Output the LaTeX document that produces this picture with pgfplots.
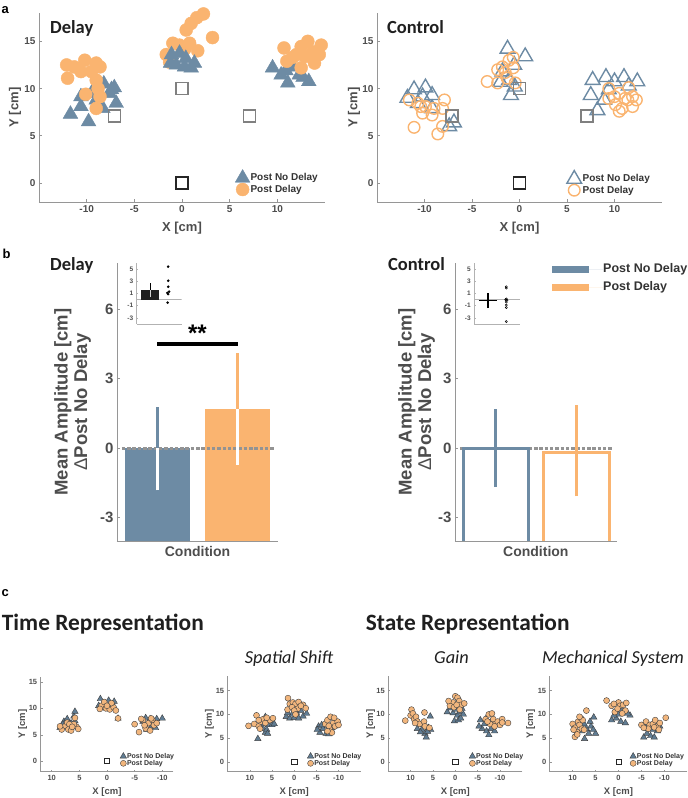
\documentclass[border=0pt]{standalone}
\usepackage{fontspec}
\setmainfont{Liberation Sans}
\newfontfamily\calibri{Carlito}
\usepackage{pgfplots}
\pgfplotsset{compat=1.18}

\definecolor{nodelay}{RGB}{109,139,164}
\definecolor{delayc}{RGB}{250,180,112}
\definecolor{tickgray}{RGB}{77,77,77}
\definecolor{axgray}{RGB}{150,150,150}
\definecolor{sqgray}{RGB}{128,128,128}
\definecolor{cblue}{RGB}{96,124,147}
\definecolor{corange}{RGB}{242,182,125}
\newcommand{\fs}[1]{\fontsize{#1}{#1}\selectfont}

\pgfplotsset{
  myax/.style={scale only axis, anchor=south west,
    axis x line*=bottom, axis y line*=left,
    axis line style={axgray, line width=0.9pt},
    tick style={axgray, line width=0.8pt}, tick align=inside, major tick length=3pt,
    /pgf/number format/assume math mode=true},
  mklegend/.style={legend cell align=left,
    legend image code/.code={\draw[##1, only marks] plot coordinates {(0pt,0pt)};}},
}

\begin{document}
\begin{tikzpicture}[x=1pt,y=1pt]
\useasboundingbox (0,0) rectangle (688,798);

% ================= panel a: Delay
\begin{axis}[myax, mklegend, at={(39pt,596pt)}, width=286pt, height=189pt,
  xmin=-15, xmax=15, ymin=-2, ymax=18,
  xtick={-10,-5,0,5,10}, ytick={0,5,10,15},
  tick label style={font=\fs{10}\bfseries, text=tickgray},
  xlabel={X [cm]}, ylabel={Y [cm]},
  label style={font=\fs{13}\bfseries, text=tickgray},
  xlabel style={at={(axis description cs:0.5,-0.1376)}, anchor=center},
  ylabel style={at={(axis description cs:-0.0839,0.5)}, anchor=center},
  legend style={at={(rel axis cs:0.675,0.02)}, anchor=south west, draw=none, fill=none,
    font=\fs{10}\bfseries, text=black!80, row sep=0pt, nodes={inner sep=0.6pt}},
]
\addplot[only marks, mark=triangle*, mark size=8.5pt, nodelay] coordinates {
(-11.7,7.3) (-10.6,8.1) (-9.8,6.5) (-10.6,9.15) (-9.0,8.8) (-8.3,7.9) (-7.4,9.9) (-7.1,10.1)
(-6.9,8.45) (-8.2,10.5) (-9.5,9.5) (-7.6,9.5)
(9.5,12.2) (10.4,11.45) (11.1,10.6) (11.6,12.3) (12.3,11.45) (13.3,10.75) (12.7,11.2) (10.9,11.9)
};
\addlegendentry{Post No Delay}
\addplot[only marks, mark=*, mark size=6.5pt, delayc] coordinates {
(-12.1,12.5) (-11.3,12.3) (-10.2,13.0) (-9.0,12.7) (-12.0,11.1) (-10.6,11.8) (-9.5,11.8) (-9.0,10.9)
(-8.8,10.0) (-8.6,9.15) (-9.0,7.9) (-10.1,9.4) (-8.6,12.3)
(-1.65,13.6) (-1.3,12.8) (-0.96,14.8) (-0.26,14.6) (0.8,14.8) (1.65,14.0) (0.44,16.2) (0.96,16.9)
(1.55,17.5) (2.25,17.9) (3.2,15.4) (0.3,14.2)
(10.7,14.3) (11.0,12.9) (12.0,13.6) (12.5,14.45) (13.2,15.0) (13.7,13.9) (14.6,14.6) (13.9,12.7)
(12.5,12.2) (14.4,13.6) (11.6,13.3) (12.9,13.4)
};
\addlegendentry{Post Delay}
\addplot[only marks, mark=triangle*, mark size=8.5pt, nodelay, forget plot] coordinates {
(-1.1,13.6) (-0.26,13.75) (0.4,13.2) (1.3,12.7) (-0.6,12.5) (0.26,12.3) (0.96,12.2) (-1.2,12.7)
};
\addplot[only marks, mark=square, mark size=6pt, sqgray, line width=1.7pt, forget plot] coordinates {
(-7.07,7.07) (0,10) (7.07,7.07)};
\addplot[only marks, mark=square, mark size=6pt, black!85, line width=1.7pt, forget plot] coordinates {(0,0)};
\end{axis}

% ================= panel a: Control
\begin{axis}[myax, mklegend, at={(377pt,596pt)}, width=285pt, height=189pt,
  xmin=-15, xmax=15, ymin=-2, ymax=18,
  xtick={-10,-5,0,5,10}, ytick={0,5,10,15},
  tick label style={font=\fs{10}\bfseries, text=tickgray},
  xlabel={X [cm]}, ylabel={Y [cm]},
  label style={font=\fs{13}\bfseries, text=tickgray},
  xlabel style={at={(axis description cs:0.5,-0.1376)}, anchor=center},
  ylabel style={at={(axis description cs:-0.0807,0.5)}, anchor=center},
  legend style={at={(rel axis cs:0.655,0.02)}, anchor=south west, draw=none, fill=none,
    font=\fs{10}\bfseries, text=black!80, row sep=0pt, nodes={inner sep=1pt}},
]
\addplot[only marks, mark=triangle, mark size=8.5pt, nodelay, line width=1.4pt] coordinates {
(-11.8,9.0) (-11.1,9.9) (-9.9,10.1) (-9.2,9.3) (-10.2,9.15) (-10.7,8.45) (-6.9,6.4) (-7.4,6.0) (-9.2,7.9)
(-1.26,14.2) (0.6,13.4) (-0.9,9.3) (-1.8,11.8) (-1.1,10.9) (-0.56,12.5) (-2.0,10.7) (-0.5,10.2)
(7.7,10.9) (9.1,11.2) (10.0,10.75) (11.0,11.2) (12.4,10.75) (7.5,9.3) (8.2,7.7) (8.9,8.8) (9.4,9.9) (11.5,10.3)
};
\addlegendentry{Post No Delay}
\addplot[only marks, mark=o, mark size=5.8pt, delayc, line width=1.4pt] coordinates {
(-11.6,8.8) (-10.7,8.45) (-9.9,8.1) (-10.2,7.4) (-9.0,7.9) (-7.9,8.8) (-8.1,7.9) (-11.1,5.9) (-8.6,5.2)
(-8.1,6.0) (-9.2,7.2) (-10.4,8.1)
(-3.4,10.75) (-2.3,10.6) (-1.8,12.3) (-1.1,13.0) (-0.66,13.3) (-0.66,12.2) (-1.3,11.1) (-0.45,10.6)
(-2.3,12.0) (-1.5,11.7)
(9.4,10.0) (10.0,9.15) (10.5,9.5) (10.1,8.3) (10.8,7.9) (11.4,8.8) (11.9,9.15) (12.3,8.8) (11.5,10.1)
(9.4,8.95) (11.1,8.95) (11.9,8.1) (10.5,7.6)
};
\addlegendentry{Post Delay}
\addplot[only marks, mark=square, mark size=6pt, sqgray, line width=1.7pt, forget plot] coordinates {
(-7.07,7.07) (0,10) (7.07,7.07)};
\addplot[only marks, mark=square, mark size=6pt, black!85, line width=1.7pt, forget plot] coordinates {(0,0)};
\end{axis}

% ================= panel b: Delay
\begin{axis}[myax, at={(117pt,257pt)}, width=161pt, height=278pt,
  xmin=0.5, xmax=2.5, ymin=-4, ymax=8, xtick=\empty, ytick={-3,0,3,6},
  tick label style={font=\fs{15}\bfseries, text=tickgray},
  xlabel={Condition},
  ylabel={Mean Amplitude [cm]\\{\mdseries Δ}Post No Delay},
  xlabel style={font=\fs{14}\bfseries, text=tickgray, at={(axis description cs:0.5,-0.0385)}, anchor=center},
  ylabel style={font=\fontsize{18.5}{19.5}\selectfont\bfseries, text=tickgray, align=center,
    at={(axis description cs:-0.2764,0.5)}, anchor=center},
]
\addplot[fill=nodelay, draw=none] coordinates {(0.595,-5) (0.595,0) (1.405,0) (1.405,-5)} -- cycle;
\addplot[fill=delayc, draw=none] coordinates {(1.595,-5) (1.595,1.70) (2.405,1.70) (2.405,-5)} -- cycle;
\addplot[gray!85, line width=3pt, dash pattern=on 3.5pt off 1.8pt] coordinates {(0.56,0) (2.46,0)};
\addplot[nodelay, line width=3.2pt] coordinates {(1,0) (1,1.78)};
\addplot[white, line width=3.2pt] coordinates {(1,-1.81) (1,0)};
\addplot[delayc, line width=3.2pt] coordinates {(2,1.70) (2,4.10)};
\addplot[white, line width=3.2pt] coordinates {(2,-0.70) (2,1.70)};
\addplot[black, line width=4pt] coordinates {(1,4.52) (2,4.52)};
\node[font=\fs{24}\bfseries, anchor=base] at (axis cs:1.5,4.62) {**};
\end{axis}

% inset Delay
\begin{axis}[myax, at={(136.7pt,474pt)}, width=45pt, height=61pt,
  xmin=0.25, xmax=2.75, ymin=-4, ymax=6, xtick=\empty, ytick={-3,-1,1,3,5},
  axis line style={gray!60, line width=0.5pt}, tick style={gray!60, line width=0.4pt},
  major tick length=1.5pt,
  tick label style={font=\fs{6.5}\bfseries, text=tickgray},
]
\addplot[gray!60, line width=0.5pt] coordinates {(0.25,0) (2.75,0)};
\addplot[fill=black!88, draw=none] coordinates {(0.5,0) (0.5,1.6) (1.5,1.6) (1.5,0)} -- cycle;
\addplot[black, line width=1.2pt] coordinates {(1,1.6) (1,2.8)};
\addplot[gray!35, line width=1.2pt] coordinates {(1,0.4) (1,1.6)};
\addplot[only marks, mark=*, mark size=1.1pt, black] coordinates {
(2,5.4) (2,3.1) (2,2.1) (2.05,1.3) (1.95,1.1) (2,0.9) (1.97,-0.5)};
\end{axis}

% ================= panel b: Control
\begin{axis}[myax, at={(455pt,257pt)}, width=161.7pt, height=278pt,
  xmin=0.5, xmax=2.5, ymin=-4, ymax=8, xtick=\empty, ytick={-3,0,3,6},
  tick label style={font=\fs{15}\bfseries, text=tickgray},
  xlabel={Condition},
  ylabel={Mean Amplitude [cm]\\{\mdseries Δ}Post No Delay},
  xlabel style={font=\fs{14}\bfseries, text=tickgray, at={(axis description cs:0.5,-0.0385)}, anchor=center},
  ylabel style={font=\fontsize{18.5}{19.5}\selectfont\bfseries, text=tickgray, align=center,
    at={(axis description cs:-0.238,0.5)}, anchor=center},
  legend style={at={(rel axis cs:0.6,0.998)}, anchor=north west, draw=none, fill=none,
    inner sep=0pt, column sep=0pt,
    font=\fs{12.5}\bfseries, text=black!80, row sep=7.5pt, nodes={inner sep=0pt}},
  legend cell align=left,
  legend image code/.code={\fill[#1] (0pt,-3.5pt) rectangle (37pt,3.5pt); \path (0pt,0pt) -- (51pt,0pt);},
]
\addplot[gray!85, line width=3pt, dash pattern=on 3.5pt off 1.8pt, forget plot] coordinates {(0.56,0) (2.46,0)};
\addplot[draw=nodelay, line width=3pt, forget plot] coordinates {(0.599,-5) (0.599,0) (1.407,0) (1.407,-5)};
\addplot[draw=delayc, line width=3pt, forget plot] coordinates {(1.595,-5) (1.595,-0.17) (2.405,-0.17) (2.405,-5)};
\addplot[nodelay, line width=3pt, forget plot] coordinates {(1,-1.67) (1,1.71)};
\addplot[delayc, line width=3pt, forget plot] coordinates {(2,-2.07) (2,1.88)};
\addlegendimage{fill=nodelay, draw=none}
\addlegendentry{Post No Delay}
\addlegendimage{fill=delayc, draw=none}
\addlegendentry{Post Delay}
\end{axis}

% inset Control
\begin{axis}[myax, at={(474.3pt,474pt)}, width=45.7pt, height=61pt,
  xmin=0.25, xmax=2.75, ymin=-4, ymax=6, xtick=\empty, ytick={-3,-1,1,3,5},
  axis line style={gray!60, line width=0.5pt}, tick style={gray!60, line width=0.4pt},
  major tick length=1.5pt,
  tick label style={font=\fs{6.5}\bfseries, text=tickgray},
]
\addplot[gray!60, line width=0.5pt] coordinates {(0.25,0) (2.75,0)};
\addplot[black, line width=1.3pt] coordinates {(0.5,-0.1) (1.5,-0.1)};
\addplot[black, line width=1.3pt] coordinates {(1,-1.4) (1,1.1)};
\addplot[only marks, mark=o, mark size=1.1pt, black, line width=0.5pt] coordinates {
(2,2.1) (2,1.9) (2,0.1) (1.97,0.0) (2.03,-0.1) (2,-0.4) (2,-0.9) (2,-1.3) (2,-3.6)};
\end{axis}

% ================= panel c
\pgfplotsset{
  cax/.style={myax, mklegend, width=133pt, height=95.5pt, x dir=reverse,
    xmin=-15, xmax=15, ymin=-2, ymax=18, xtick={-10,-5,0,5,10}, ytick={0,5,10,15},
    axis line style={axgray, line width=0.7pt}, tick style={axgray, line width=0.5pt},
    major tick length=2pt,
    tick label style={font=\fs{7.5}\bfseries, text=tickgray},
    xlabel={X [cm]}, ylabel={Y [cm]},
    label style={font=\fs{9.5}\bfseries, text=tickgray},
    xlabel style={at={(axis description cs:0.5,-0.216)}, anchor=center},
    legend style={anchor=south west, draw=none, fill=none,
      font=\fs{7}\bfseries, text=black!80, row sep=-0.5pt, nodes={inner sep=0.5pt}}},
  ctri/.style={only marks, mark=triangle*, mark size=3.7pt, mark options={fill=cblue, draw=black!75, line width=0.4pt}},
  ccir/.style={only marks, mark=*, mark size=3pt, mark options={fill=corange, draw=black!75, line width=0.4pt}},
  csq/.style={only marks, mark=square, mark size=2.6pt, black!85, line width=0.6pt, forget plot},
}

% c1 Time Representation
\begin{axis}[cax, at={(40.7pt,26.3pt)}, width=132.6pt, height=95pt, xmin=-12, xmax=12, ymin=-2, ymax=16,
  ylabel style={at={(axis description cs:-0.136,0.5)}, anchor=center},
  legend style={at={(rel axis cs:0.575,0.025)}}]
\addplot[ctri] coordinates {
(8.5,6.3) (7.8,7.5) (7.2,8.0) (6.5,7.2) (6.0,8.5) (5.8,9.4) (6.8,6.5) (7.5,6.8) (5.8,7.6) (8.0,7.0)
(1.2,11.8) (0.5,11.0) (-0.3,11.5) (-1.3,11.3) (1.5,10.5) (-0.8,10.3) (0.0,10.0) (-1.0,10.8) (0.8,10.2) (-2.0,8.1)
(-7.0,8.2) (-7.8,8.0) (-8.5,7.5) (-9.0,8.0) (-10.0,8.1) (-8.0,6.5) (-7.5,7.0) (-6.5,7.5) (-8.8,6.3) (-7.2,6.0)};
\addlegendentry{Post No Delay}
\addplot[ccir] coordinates {
(8.2,6.0) (7.5,6.7) (7.0,6.0) (6.5,5.8) (5.5,6.5) (6.0,7.0) (7.2,7.3) (5.8,8.2) (6.8,7.0) (8.5,6.6) (5.2,6.1) (6.3,6.5)
(1.0,10.5) (0.2,10.0) (-0.5,9.8) (-1.2,10.2) (0.5,11.2) (-0.8,11.0) (0.0,10.5) (1.3,9.9) (-1.6,9.6) (-2.0,8.1)
(-5.0,7.0) (-5.8,5.5) (-6.5,7.8) (-7.0,6.2) (-7.5,7.2) (-8.2,7.8) (-8.5,6.8) (-6.2,8.0) (-7.8,5.8) (-9.0,7.2) (-6.8,6.8) (-8.0,8.1)};
\addlegendentry{Post Delay}
\addplot[csq] coordinates {(0,0)};
\end{axis}

% c2 Spatial Shift
\begin{axis}[cax, at={(227.7pt,26.3pt)},
  ylabel style={at={(axis description cs:-0.138,0.5)}, anchor=center},
  legend style={at={(rel axis cs:0.575,0.025)}}]
\addplot[ctri] coordinates {
(8.2,4.9) (7.0,7.0) (6.5,6.2) (6.2,6.8) (5.8,7.8) (6.5,9.5) (5.0,7.8) (4.5,8.0) (7.2,8.0) (6.0,6.0)
(1.8,9.5) (1.0,9.2) (0.0,9.3) (-1.0,9.2) (-2.0,9.6) (-2.8,10.2) (-1.5,10.8) (0.5,10.0) (-0.5,10.4) (1.5,10.3)
(-5.5,7.5) (-5.8,6.2) (-6.5,7.0) (-7.2,6.0) (-7.5,7.6) (-8.0,6.8) (-6.2,7.8) (-7.8,5.9) (-8.5,7.2) (-5.2,6.8)};
\addlegendentry{Post No Delay}
\addplot[ccir] coordinates {
(10.3,7.6) (9.0,8.0) (8.5,9.8) (8.0,7.5) (7.5,8.5) (7.0,9.0) (6.5,8.2) (5.5,8.8) (4.8,9.2) (8.0,8.8) (6.2,9.3) (7.7,7.0)
(1.4,13.4) (1.0,12.2) (0.3,12.5) (-0.3,12.2) (-1.0,12.6) (-2.0,12.0) (-2.6,11.3) (1.5,11.0) (0.5,11.5) (-0.8,11.2) (-1.5,11.8) (0.0,10.8) (-0.3,10.0)
(-7.0,8.0) (-7.5,8.8) (-8.2,9.5) (-8.8,8.2) (-9.2,7.5) (-9.8,8.5) (-8.0,7.0) (-8.5,6.2) (-7.5,6.5) (-9.0,9.3) (-7.8,7.6) (-10.0,7.8)};
\addlegendentry{Post Delay}
\addplot[csq] coordinates {(0,0)};
\end{axis}

% c3 Gain
\begin{axis}[cax, at={(388.3pt,26.3pt)}, width=134pt,
  ylabel style={at={(axis description cs:-0.131,0.5)}, anchor=center},
  legend style={at={(rel axis cs:0.58,0.025)}}]
\addplot[ctri] coordinates {
(8.5,7.0) (7.5,6.8) (6.8,6.0) (6.5,5.2) (6.0,7.2) (5.5,6.8) (5.6,9.6) (7.0,7.8) (6.2,6.4) (7.8,6.3)
(1.8,10.5) (0.5,10.3) (-0.5,9.8) (-1.0,10.5) (-1.8,10.0) (0.2,8.6) (-0.7,8.8) (-1.2,9.2) (0.0,11.0) (-1.5,11.2) (1.0,11.3)
(-5.6,8.8) (-6.0,7.0) (-6.5,8.0) (-7.0,6.5) (-7.5,5.7) (-8.0,7.0) (-8.8,6.5) (-6.8,9.0) (-5.3,7.5) (-7.8,8.2)};
\addlegendentry{Post No Delay}
\addplot[ccir] coordinates {
(11.2,8.7) (10.0,9.8) (9.8,11.0) (9.5,10.2) (9.2,9.0) (8.8,9.5) (8.5,8.5) (8.0,8.0) (6.9,10.4) (7.0,8.5) (6.8,7.5) (5.8,7.2) (9.0,8.2)
(0.0,13.8) (-0.5,13.5) (-0.9,12.8) (0.5,12.5) (1.2,11.8) (-1.3,12.0) (-2.0,12.3) (0.3,11.5) (-0.3,12.0) (1.5,12.8) (-1.0,11.0)
(-6.8,9.0) (-7.5,10.0) (-8.2,10.2) (-8.5,9.0) (-9.0,8.0) (-9.5,8.5) (-10.0,7.8) (-10.5,9.0) (-11.8,8.2) (-7.8,8.0) (-8.8,7.5) (-10.5,8.3) (-7.2,8.5)};
\addlegendentry{Post Delay}
\addplot[csq] coordinates {(0,0)};
\end{axis}

% c4 Mechanical System
\begin{axis}[cax, at={(549.7pt,26.3pt)}, width=137.6pt,
  ylabel style={at={(axis description cs:-0.138,0.5)}, anchor=center},
  legend style={at={(rel axis cs:0.56,0.025)}}]
\addplot[ctri] coordinates {
(7.4,4.9) (8.0,6.5) (7.0,7.0) (6.5,6.0) (6.0,7.5) (5.4,9.4) (5.0,6.0) (5.5,6.8) (7.5,8.0) (6.2,8.5)
(1.5,8.8) (0.5,9.2) (-0.5,8.5) (-1.5,8.2) (-2.5,9.8) (-1.2,10.5) (0.0,10.0) (-0.5,11.0) (1.0,9.8) (-2.0,10.2)
(-5.5,5.2) (-6.2,6.0) (-7.0,5.5) (-7.8,5.2) (-8.5,6.5) (-9.0,7.5) (-6.5,7.0) (-7.5,6.8) (-5.8,7.5) (-8.0,7.8)};
\addlegendentry{Post No Delay}
\addplot[ccir] coordinates {
(10.0,8.0) (9.5,7.2) (9.0,6.3) (9.5,5.3) (8.8,8.5) (8.2,9.2) (8.5,7.8) (7.8,8.8) (7.0,10.8) (8.0,7.0) (9.0,5.8) (7.5,6.8) (8.5,9.5) (9.8,6.8)
(2.6,12.9) (1.5,11.8) (0.8,10.5) (0.0,12.5) (-0.3,11.8) (-1.0,12.0) (-1.7,12.4) (-1.5,10.8) (-0.8,10.2) (0.2,11.2) (1.0,12.2)
(-5.0,7.8) (-6.0,8.5) (-6.8,7.8) (-7.5,8.0) (-8.0,8.8) (-8.5,7.5) (-9.0,8.2) (-10.3,9.3) (-6.5,7.0) (-7.8,7.3) (-8.8,6.8) (-5.5,7.2)};
\addlegendentry{Post Delay}
\addplot[csq] coordinates {(0,0)};
\end{axis}

% ================= text
\node[anchor=base west, inner sep=0pt, font=\fs{13}\bfseries] at (1.5,784) {a};
\node[anchor=base west, inner sep=0pt, font=\fs{13}\bfseries] at (2.5,539.7) {b};
\node[anchor=base west, inner sep=0pt, font=\fs{13}\bfseries] at (1.5,201.3) {c};
\node[anchor=base west, inner sep=0pt, font=\calibri\bfseries\fs{18.5}, text=black!88] at (50,764.7) {Delay};
\node[anchor=base west, inner sep=0pt, font=\calibri\bfseries\fs{18.5}, text=black!88] at (387,764.7) {Control};
\node[anchor=base west, inner sep=0pt, font=\calibri\bfseries\fs{18.5}, text=black!88] at (50,527.3) {Delay};
\node[anchor=base west, inner sep=0pt, font=\calibri\bfseries\fs{18.5}, text=black!88] at (388,527.3) {Control};
\node[anchor=base west, inner sep=0pt, font=\calibri\bfseries\fs{23.4}, text=black!88] at (1.7,167.3) {Time Representation};
\node[anchor=base west, inner sep=0pt, font=\calibri\bfseries\fs{23.4}, text=black!88] at (365.7,167.3) {State Representation};
\node[anchor=base, inner sep=0pt, font=\calibri\itshape\fs{18.3}, text=black!88] at (289,134) {Spatial Shift};
\node[anchor=base, inner sep=0pt, font=\calibri\itshape\fs{18.3}, text=black!88] at (451.5,134) {Gain};
\node[anchor=base, inner sep=0pt, font=\calibri\itshape\fs{18.3}, text=black!88] at (613,134) {Mechanical System};
\end{tikzpicture}
\end{document}
